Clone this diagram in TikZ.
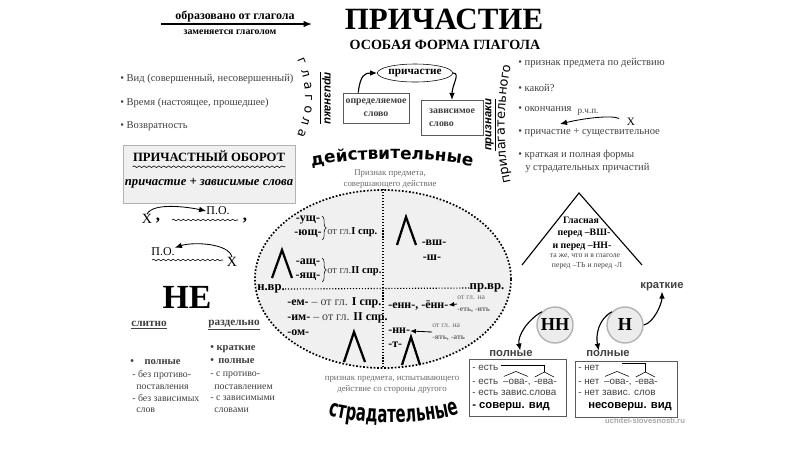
\documentclass[tikz,border=0pt]{standalone}
\usepackage{fontspec}
\setmainfont{Liberation Serif}
\setsansfont{Liberation Sans}
\newfontfamily\widefont{DejaVu Sans}
\newfontfamily\tallfont[FakeStretch=0.62]{DejaVu Sans}
\usepackage{tikz}
\usetikzlibrary{
  calc,                     % ($(a)+(b)$)
  positioning,              % right=of
  shapes.geometric,         % ellipse nodes
  decorations.text,         % curved words
  decorations.pathmorphing, % wavy underlines
  decorations.pathreplacing % braces
}
\usetikzlibrary{arrows.meta}

\definecolor{inkgray}{gray}{0.25}
\definecolor{softgray}{gray}{0.42}
\definecolor{ovalfill}{gray}{0.94}

% roof over a morpheme
\newcommand{\morphroof}[1]{%
  \draw ($(#1.north west)+(1,-2)$) -- ($(#1.north)+(-1,-7)$) -- ($(#1.north east)+(-3,-2)$);}

\begin{document}
\begin{tikzpicture}[x=0.025cm, y=-0.025cm,
    every node/.style={inner sep=0pt},
    listitem/.style={anchor=west, text=inkgray, font=\fontsize{7.5}{9}\selectfont},
    suffix/.style={font=\fontsize{8.5}{10}\selectfont\bfseries},
    conj/.style={anchor=west, text=inkgray, font=\fontsize{7.5}{9}\selectfont},
    fromnote/.style={anchor=west, align=left, text=softgray, font=\fontsize{5.5}{8.5}\selectfont},
    desc/.style={align=center, text=softgray, font=\fontsize{6.3}{7.4}\selectfont},
    negitem/.style={anchor=west, text=inkgray, font=\fontsize{7}{8}\selectfont},
    boxline/.style={anchor=west, text=inkgray, font=\sffamily\fontsize{7}{8}\selectfont},
    tritext/.style={font=\fontsize{7}{8}\selectfont\bfseries},
    lambda/.style={line width=1.6pt},
    curvearrow/.style={-{Latex[length=5pt,width=4pt]}, thick},
    wavy/.style={decorate, decoration={snake, amplitude=0.6pt, segment length=3.5pt}},
    framebox/.style={draw=gray!70!black, semithick}
  ]
  \useasboundingbox (0,0) rectangle (800,450);

  % Title
  \node[font=\fontsize{22}{24}\selectfont\bfseries] (title) at (444,19) {ПРИЧАСТИЕ};
  \node[font=\fontsize{10}{12}\selectfont\bfseries] (subtitle) at (445,45) {ОСОБАЯ ФОРМА ГЛАГОЛА};

  % Formed from a verb
  \node[font=\fontsize{8.5}{10}\selectfont\bfseries] (formed) at (235,16) {образовано от глагола};
  \node[font=\fontsize{7}{8}\selectfont\bfseries] (replaced) at (230,32) {заменяется глаголом};
  \coordinate (formedS) at (161,24);
  \coordinate (formedE) at (312,24);
  \draw[-{Latex[length=6pt,width=4.5pt]}, thick] (formedS) -- (formedE);

  % Verb features
  \node[listitem] (vid) at (120,79) {• Вид (совершенный, несовершенный)};
  \node[listitem] (tense) at (120,103) {• Время (настоящее, прошедшее)};
  \node[listitem] (refl) at (120,126) {• Возвратность};
  \path[decorate, decoration={text along path, text align={fit to path},
      text={|\widefont\fontsize{9}{9}\selectfont|г л а г о л а}}]
    (297,60) .. controls (308,85) and (308,110) .. (297,136);
  \node[rotate=-90, font=\sffamily\bfseries\itshape\fontsize{8}{9}\selectfont] (signsL) at (325,98) {\underline{признаки}};

  % Participle and the word it defines
  \node[draw, ellipse, minimum width=1.6cm, minimum height=0.45cm,
    font=\fontsize{8}{9}\selectfont\bfseries] (part) at (415,73) {причастие};
  \node[framebox, minimum width=1.65cm, minimum height=0.75cm, align=center, text=inkgray,
    font=\fontsize{7}{9.2}\selectfont\bfseries] (defbox) at (376,108) {определяемое\\слово};
  \node[framebox, minimum width=1.55cm, minimum height=0.88cm, align=left, text=inkgray,
    font=\fontsize{7}{9.2}\selectfont\bfseries] (depbox) at (452,118) {зависимое\\слово};
  \draw[curvearrow] (defbox.139) .. controls +(2,-18) and +(-12,0) .. (part.west);
  \draw[curvearrow] (part.east) .. controls +(8,0) and +(0,-15) .. (depbox.north);

  % Adjective features
  \node[rotate=90, font=\sffamily\bfseries\itshape\fontsize{8}{9}\selectfont] (signsR) at (491,125) {\underline{признаки}};
  \path[decorate, decoration={text along path, text align=center,
      text={|\widefont\fontsize{9.2}{9.2}\selectfont|прилагательного}}]
    (513,192) .. controls (502,155) and (502,100) .. (513,56);
  \node[listitem] (attr) at (518,63) {• признак предмета по действию};
  \node[listitem] (which) at (518,88) {• какой?};
  \node[listitem] (endings) at (518,109) {• окончания};
  \node[listitem] (pnoun) at (518,133) {• причастие + существительное};
  \node[listitem] (forms) at (518,155) {• краткая и полная формы};
  \node[listitem] (forms2) at (525,168) {у страдательных причастий};
  \node[text=inkgray, font=\fontsize{6.5}{7}\selectfont] (rchp) at (588,112) {р.ч.п.};
  \node[font=\fontsize{8}{9}\selectfont] (xr) at (631,122) {Х};
  \coordinate (pnounTop) at (560,124);
  \draw[curvearrow, semithick, shorten <=6pt] (xr.west) .. controls +(-15,-7) and +(25,-6) .. (pnounTop);

  % Participial phrase
  \node[draw=gray!60, fill=gray!12, minimum width=4.3cm, minimum height=1.45cm] (phrasebox) at (209,174) {};
  \node[font=\fontsize{9}{10}\selectfont\bfseries] (phrase) at (209,156) {ПРИЧАСТНЫЙ ОБОРОТ};
  \draw[wavy, thin] ($(phrase.south west)+(0,5)$) -- ($(phrase.south east)+(0,5)$);
  \node[font=\fontsize{9}{10}\selectfont\bfseries\itshape] (phrasedef) at (209,183) {причастие + зависимые слова};

  % Commas
  \node[font=\fontsize{10}{11}\selectfont] (xa) at (147,219) {Х};
  \node[font=\fontsize{12}{12}\selectfont\bfseries] (commaA) at (158,221) {,};
  \node[font=\fontsize{8.5}{9}\selectfont] (poa) at (218,211) {П.О.};
  \draw[wavy] (172,220) -- (238,220);
  \node[font=\fontsize{12}{12}\selectfont\bfseries] (commaB) at (245,221) {,};
  \draw[curvearrow, semithick] (xa.north) .. controls +(6,-12) and +(-18,-4) .. (poa.west);
  \node[font=\fontsize{8.5}{9}\selectfont] (pob) at (163,252) {П.О.};
  \draw[wavy] (152,260) -- (223,260);
  \node[font=\fontsize{10}{11}\selectfont] (xb) at (232,262) {Х};
  \draw[curvearrow, semithick] (xb.north) .. controls +(-3,-14) and +(18,-6) .. (pob.north east);

  % Oval
  \node[ellipse, draw, fill=ovalfill, line width=1.2pt, dash pattern=on 1.2pt off 1.3pt,
    minimum width=6.4cm, minimum height=4.45cm] (oval) at (383,279) {};
  \draw[line width=0.8pt, dash pattern=on 0.8pt off 1.3pt] (oval.north) -- (oval.south);
  \node[font=\fontsize{9}{10}\selectfont\bfseries] (pres) at (271,289) {н.вр.};
  \node[font=\fontsize{9}{10}\selectfont\bfseries] (past) at (487,288) {пр.вр.};
  \draw[line width=0.8pt, dash pattern=on 0.8pt off 1.3pt] (pres.east) -- (past.west);

  % Active, present
  \node[suffix] (ushch) at (308,220) {-ущ-};
  \node[suffix] (yushch) at (308,234) {-ющ-};
  \draw[decorate, decoration={brace, amplitude=3pt}] (322,216) -- (322,240);
  \node[conj] (conjA) at (327,232) {от гл.\textbf{\color{black}I спр.}};
  \draw[lambda] (272,278) -- (282,250) -- (292,278);
  \node[suffix] (ashch) at (308,263) {-ащ-};
  \node[suffix] (yashch) at (308,277) {-ящ-};
  \draw[decorate, decoration={brace, amplitude=3pt}] (322,258) -- (322,282);
  \node[conj] (conjB) at (327,271) {от гл.\textbf{\color{black}II спр.}};

  % Active, past
  \draw[lambda] (397,245) -- (406,217) -- (416,245);
  \node[suffix] (vsh) at (434,243) {-вш-};
  \node[suffix] (sh) at (432,258) {-ш-};

  % Passive, present
  \node[conj, text=black, font=\fontsize{8.5}{10}\selectfont] (em) at (287,303)
    {\textbf{-ем-} \textcolor{inkgray}{– от гл.} \textbf{I спр.}};
  \node[conj, text=black, font=\fontsize{8.5}{10}\selectfont] (im) at (287,318)
    {\textbf{-им-} \textcolor{inkgray}{– от гл.} \textbf{II спр.}};
  \node[conj, text=black, font=\fontsize{8.5}{10}\selectfont\bfseries] (om) at (287,333) {-ом-};
  \draw[lambda] (344,362) -- (354,332) -- (365,362);

  % Passive, past
  \node[suffix, anchor=west] (enn) at (388,305) {-енн-, -ённ-};
  \node[fromnote] (fromA) at (457,304) {от гл. на\\\textbf{-еть, -ить}};
  \draw[-{Latex[length=4pt,width=3.5pt]}, semithick] (fromA.west) -- (enn.east);
  \node[suffix, anchor=west] (nn) at (388,331) {-нн-};
  \node[fromnote] (fromB) at (432,332) {от гл. на\\\textbf{-ять, -ать}};
  \draw[-{Latex[length=4pt,width=3.5pt]}, semithick] (fromB.west) -- (nn.east);
  \node[suffix, anchor=west] (tt) at (388,345) {-т-};
  \draw[lambda] (402,365) -- (411,337) -- (420,365);

  % Active / passive captions
  \path[decorate, decoration={text along path, text align=center,
      text={|\widefont\bfseries\fontsize{12}{12}\selectfont|действительные}}]
    (305,168) .. controls (350,156) and (434,156) .. (479,168);
  \node[desc] (actdesc) at (390,179) {Признак предмета,\\совершающего действие};
  \node[desc] (passdesc) at (392,385) {признак предмета, испытывающего\\действие со стороны другого};
  \path[decorate, decoration={text along path, text align=center,
      text={|\tallfont\bfseries\fontsize{17}{17}\selectfont|страдательные}}]
    (322,414) .. controls (360,426) and (425,426) .. (465,412);

  % NE
  \node[font=\fontsize{24}{26}\selectfont\bfseries] (ne) at (187,297) {НЕ};
  \node[font=\fontsize{8}{9}\selectfont\bfseries, text=inkgray] (together) at (149,325) {\underline{слитно}};
  \node[font=\fontsize{8}{9}\selectfont\bfseries, text=inkgray] (apart) at (234,325) {\underline{раздельно}};
  \node[negitem, font=\fontsize{7.5}{8}\selectfont\bfseries] (fullA) at (130,362) {•\quad полные};
  \node[negitem] (negA1) at (132,375) {- без противо-};
  \node[negitem] (negA2) at (136,387) {поставления};
  \node[negitem] (negA3) at (132,398) {- без зависимых};
  \node[negitem] (negA4) at (136,410) {слов};
  \node[negitem, font=\fontsize{7.5}{8}\selectfont\bfseries] (shortB) at (210,349) {• краткие};
  \node[negitem, font=\fontsize{7.5}{8}\selectfont\bfseries] (fullB) at (210,361) {•\, полные};
  \node[negitem] (negB1) at (210,375) {- с противо-};
  \node[negitem] (negB2) at (214,387) {поставлением};
  \node[negitem] (negB3) at (210,398) {- с зависимыми};
  \node[negitem] (negB4) at (214,410) {словами};

  % Vowel triangle
  \coordinate (apex) at (579,193);
  \coordinate (footL) at (522,265);
  \coordinate (footR) at (642,265);
  \draw[thick] (footL) -- (apex) -- (footR);
  \node[tritext] (vowel) at (581,220) {Гласная};
  \node[tritext] (beforeVsh) at (584,233) {перед –ВШ-};
  \node[tritext] (beforeNn) at (582,246) {и перед –НН-};
  \node[font=\fontsize{5.5}{6}\selectfont, text=inkgray] (same) at (585,256) {та же, что и в глаголе};
  \node[font=\fontsize{5.5}{6}\selectfont, text=inkgray] (beforeT) at (587,266) {перед –ТЬ и перед -Л};

  % NN and N
  \node[circle, draw=gray!60, fill=gray!15, line width=1pt, minimum size=0.9cm,
    font=\fontsize{13}{14}\selectfont\bfseries] (nnc) at (555,325) {НН};
  \node[circle, draw=gray!60, fill=gray!15, line width=1pt, minimum size=0.9cm,
    font=\fontsize{13}{14}\selectfont\bfseries] (nc) at (625,325) {Н};
  \node[font=\sffamily\bfseries\fontsize{8}{9}\selectfont, text=inkgray] (shortN) at (662,287) {краткие};
  \node[font=\sffamily\bfseries\fontsize{8}{9}\selectfont, text=inkgray] (fullN1) at (511,354) {полные};
  \node[font=\sffamily\bfseries\fontsize{8}{9}\selectfont, text=inkgray] (fullN2) at (608,354) {полные};
  \draw[curvearrow] (nc.east) .. controls +(10,-2) and +(0,12) .. (shortN.south);
  \draw[curvearrow] (nnc.135) .. controls +(-14,8) and +(-3,-15) .. (fullN1.20);
  \draw[curvearrow] (nc.135) .. controls +(-14,8) and +(-3,-15) .. (fullN2.160);

  % NN box
  \node[framebox, minimum width=2.43cm, minimum height=1.43cm] (boxNN) at (518,388) {};
  \node[boxline] (nnLa) at (472,368) {- есть};
  \node[boxline] (nnLb) at (472,382) {- есть};
  \node[boxline, right=3pt of nnLb] (ovaA) {–ова-,};
  \node[boxline, right=2pt of ovaA] (evaA) {-ева-};
  \node[boxline] (nnLc) at (472,393) {- есть завис.слова};
  \node[boxline, text=black, font=\sffamily\bfseries\fontsize{8}{9}\selectfont] (nnLd) at (472,407) {- соверш. вид};
  \morphroof{ovaA}
  \morphroof{evaA}
  \draw ($(nnLa.east)+(2,-3)$) -| ($(evaA.north)+(-1,-7)$);

  % N box
  \node[framebox, minimum width=2.55cm, minimum height=1.4cm] (boxN) at (626,389) {};
  \node[boxline] (nLa) at (578,368) {- нет};
  \node[boxline] (nLb) at (578,382) {- нет};
  \node[boxline, right=3pt of nLb] (ovaB) {–ова-,};
  \node[boxline, right=2pt of ovaB] (evaB) {-ева-};
  \node[boxline] (nLc) at (578,393) {- нет завис. слов};
  \node[boxline, text=black, font=\sffamily\bfseries\fontsize{8}{9}\selectfont] (nLd) at (588,407) {несоверш. вид};
  \morphroof{ovaB}
  \morphroof{evaB}
  \draw ($(ovaB.north)+(4,-15)$) -| ($(evaB.north)+(-1,-7)$);

  % Site
  \node[font=\sffamily\bfseries\fontsize{5.5}{6}\selectfont, text=gray!70] (site) at (645,421) {uchitel-slovesnosti.ru};
\end{tikzpicture}
\end{document}
